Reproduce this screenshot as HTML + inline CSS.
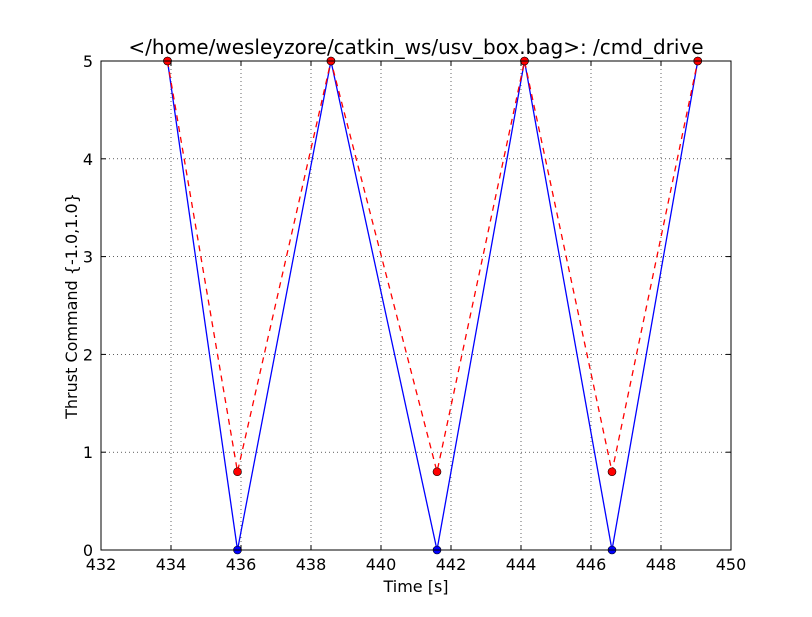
<!DOCTYPE html>
<html><head><meta charset="utf-8"><style>
body{margin:0;background:#fff;}
svg text{font-family:"DejaVu Sans","Liberation Sans",sans-serif;}
</style></head><body>
<svg id="chart" width="812" height="612" viewBox="0 0 812 612">
<rect width="812" height="612" fill="#fff"/>
<g id="grid"></g>
<g id="series"></g>
<rect x="101" y="61" width="630" height="489" fill="none" stroke="#000" stroke-width="1"/>
<g id="ticks"></g>
<text x="416" y="54" text-anchor="middle" font-size="20">&lt;/home/wesleyzore/catkin_ws/usv_box.bag&gt;: /cmd_drive</text>
<text x="416" y="592" text-anchor="middle" font-size="16">Time [s]</text>
<text x="77" y="306" text-anchor="middle" font-size="16" transform="rotate(-90 77 306)">Thrust Command {-1.0,1.0}</text>
</svg>
<script>
const times=[433.9,435.9,438.57,441.6,444.1,446.6,449.05];
const redValues=[5,0.8,5,0.8,5,0.8,5];
const blueValues=[5,0,5,0,5,0,5];
const xTicks=[432,434,436,438,440,442,444,446,448,450];
const yTicks=[0,1,2,3,4,5];
const NS="http://www.w3.org/2000/svg";
const L=101,R=731,T=61,B=550;
const xs=v=>L+(v-432)/(450-432)*(R-L);
const ys=v=>B-(v/5)*(B-T);
function mk(tag,attrs,parent){const e=document.createElementNS(NS,tag);for(const k in attrs)e.setAttribute(k,attrs[k]);parent.appendChild(e);return e;}
const grid=document.getElementById('grid'),ticks=document.getElementById('ticks'),ser=document.getElementById('series');
xTicks.forEach(t=>{const x=xs(t);
 const g=mk('line',{x1:x,x2:x,y1:T,y2:B,stroke:'#000','stroke-width':0.6,'stroke-dasharray':'1,3'},grid);
 
 
 mk('line',{x1:x,x2:x,y1:B,y2:B-5,stroke:'#000'},ticks);
 mk('line',{x1:x,x2:x,y1:T,y2:T+5,stroke:'#000'},ticks);
 const tx=mk('text',{x:x,y:B+20,'text-anchor':'middle','font-size':16},ticks);tx.textContent=t;
 
 
});
yTicks.forEach(t=>{const y=ys(t);
 const g=mk('line',{x1:L,x2:R,y1:y,y2:y,stroke:'#000','stroke-width':0.6,'stroke-dasharray':'1,3'},grid);
 
 
 mk('line',{x1:L,x2:L+5,y1:y,y2:y,stroke:'#000'},ticks);
 mk('line',{x1:R,x2:R-5,y1:y,y2:y,stroke:'#000'},ticks);
 const tx=mk('text',{x:L-8,y:y+6,'text-anchor':'end','font-size':16},ticks);tx.textContent=t;
 
 
});
function series(vals,color,dash,name){
 const pts=times.map((t,i)=>xs(t)+','+ys(vals[i])).join(' ');
 const pl=mk('polyline',{points:pts,fill:'none',stroke:color,'stroke-width':1.3},ser);
 if(dash)pl.setAttribute('stroke-dasharray',dash);
 
 
 times.forEach((t,i)=>{const c=mk('circle',{cx:xs(t),cy:ys(vals[i]),r:4,fill:color,stroke:'#000','stroke-width':0.6},ser);
  
  });
}
series(blueValues,'#0000ff',null,'blue-series');
series(redValues,'#ff0000','6,5','red-series');
</script>
</body></html>
